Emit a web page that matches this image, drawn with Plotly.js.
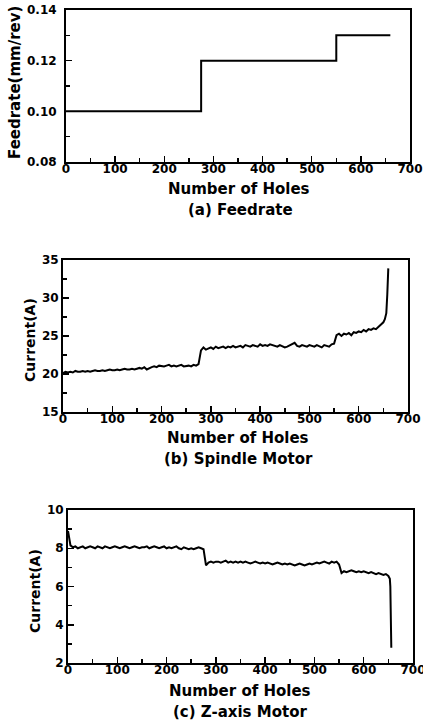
<!DOCTYPE html>
<html>
<head>
<meta charset="utf-8">
<script src="https://cdn.plot.ly/plotly-3.0.1.min.js"></script>
<style>html,body{margin:0;padding:0;background:#fff;}#chart{width:423px;height:722px;}</style>
</head>
<body>
<div id="chart"></div>
<script>
// ---- data ----
var feedHoles = [0, 275, 550, 660];
var feedrate = [0.10, 0.12, 0.13, 0.13];

var holes = [0,5,10,15,20,25,30,35,40,45,50,55,60,65,70,75,80,85,90,95,100,
105,110,115,120,125,130,135,140,145,150,155,160,165,170,175,180,185,190,195,200,
205,210,215,220,225,230,235,240,245,250,255,260,265,270,275,280,285,290,295,300,
305,310,315,320,325,330,335,340,345,350,355,360,365,370,375,380,385,390,395,400,
405,410,415,420,425,430,435,440,445,450,455,460,465,470,475,480,485,490,495,500,
505,510,515,520,525,530,535,540,545,550,555,560,565,570,575,580,585,590,595,600,
605,610,615,620,625,630,635,640,645,650];

var spindleHoles = holes.concat([653, 656, 658, 660]);
var spindle = [20.1,20.3,20.2,20.3,20.2,20.4,20.3,20.3,20.4,20.3,20.4,
20.3,20.4,20.5,20.4,20.4,20.5,20.4,20.5,20.6,20.5,
20.5,20.6,20.5,20.6,20.7,20.6,20.6,20.7,20.6,20.7,
20.8,20.7,20.9,20.6,20.8,20.9,21.0,20.9,21.1,21.0,
21.0,21.1,21.2,21.0,21.1,21.0,21.1,21.2,21.0,21.1,
21.1,21.0,21.2,21.1,21.3,23.1,23.5,23.2,23.4,23.5,
23.3,23.6,23.4,23.5,23.6,23.4,23.6,23.5,23.7,23.5,
23.6,23.7,23.5,23.8,23.7,23.6,23.8,23.7,23.6,23.9,
23.7,23.8,23.7,23.9,23.8,23.7,23.6,23.8,23.7,23.5,
23.6,23.8,23.9,24.1,23.7,23.6,23.8,23.7,23.6,23.8,
23.7,23.6,23.8,23.7,23.5,23.8,23.7,23.6,23.9,24.0,
25.1,25.3,25.0,25.3,25.2,25.4,25.1,25.5,25.4,25.6,
25.5,25.8,25.6,25.9,25.8,26.0,25.9,26.2,26.5,26.8,
27.2,28.0,30.5,33.9];

var zHoles = holes.concat([653, 654, 656]);
var zaxis = [8.9,8.15,8.05,8.1,8.0,8.05,8.1,8.0,8.05,8.1,8.05,
8.0,8.1,8.05,8.0,8.1,8.05,8.0,8.05,8.1,8.05,
8.0,8.05,8.1,8.05,8.0,8.05,8.1,8.05,8.0,8.05,
8.05,8.1,8.0,8.05,8.1,8.05,8.0,8.05,8.1,8.0,
8.05,8.0,8.05,8.1,8.0,7.95,8.05,8.0,7.95,8.0,
7.95,8.0,8.05,8.0,7.95,7.1,7.25,7.3,7.25,7.3,
7.3,7.25,7.3,7.35,7.25,7.3,7.25,7.3,7.25,7.3,
7.25,7.3,7.25,7.2,7.25,7.3,7.25,7.2,7.25,7.2,
7.25,7.2,7.15,7.2,7.25,7.2,7.15,7.2,7.15,7.2,
7.15,7.1,7.15,7.2,7.15,7.1,7.15,7.2,7.15,7.2,
7.25,7.2,7.25,7.3,7.25,7.2,7.3,7.25,7.3,7.15,
6.7,6.8,6.75,6.8,6.85,6.8,6.75,6.8,6.75,6.8,
6.75,6.7,6.75,6.7,6.65,6.7,6.65,6.6,6.65,6.55,
6.4,6.0,2.8];

var xTickVals = [0,100,200,300,400,500,600,700];
var xTitle = 'Number of Holes';
var captions = ['(a) Feedrate', '(b) Spindle Motor', '(c) Z-axis Motor'];
var yTitles = ['Feedrate(mm/rev)', 'Current(A)', 'Current(A)'];

// ---- layout helpers ----
var W = 423, H = 722;
function px(x) { return x / W; }
function py(y) { return 1 - y / H; }

var FONT = 'DejaVu Sans, Arial, sans-serif';

function xAxis(l, r, anchor) {
  return {
    domain: [px(l), px(r)], anchor: anchor, range: [0, 700],
    tickmode: 'array', tickvals: xTickVals,
    ticks: 'inside', ticklen: 6, tickwidth: 1.5, tickcolor: '#000',
    minor: {ticks: 'inside', ticklen: 4, tickwidth: 1.5, dtick: 50, tick0: 0, tickcolor: '#000'},
    showline: true, linewidth: 2, linecolor: '#000', mirror: true,
    showgrid: false, zeroline: false,
    ticklabelstandoff: -5, ticklabeloverflow: 'allow',
    tickfont: {family: FONT, size: 12, color: '#000', weight: 'bold'}
  };
}
function yAxis(t, b, anchor, range, dtick, minorD, fmt, standoff) {
  return {
    domain: [py(b), py(t)], anchor: anchor, range: range,
    dtick: dtick, tick0: range[0], tickformat: fmt,
    ticks: 'inside', ticklen: 6, tickwidth: 1.5, tickcolor: '#000',
    minor: {ticks: 'inside', ticklen: 4, tickwidth: 1.5, dtick: minorD, tick0: range[0], tickcolor: '#000'},
    showline: true, linewidth: 2, linecolor: '#000', mirror: true,
    showgrid: false, zeroline: false,
    ticklabelstandoff: standoff, ticklabeloverflow: 'allow',
    tickfont: {family: FONT, size: 12, color: '#000', weight: 'bold'}
  };
}

var lineStyle = {color: '#000', width: 2};
var traces = [
  {x: feedHoles, y: feedrate, mode: 'lines', line: Object.assign({shape: 'hv'}, lineStyle), xaxis: 'x', yaxis: 'y'},
  {x: spindleHoles, y: spindle, mode: 'lines', line: lineStyle, xaxis: 'x2', yaxis: 'y2'},
  {x: zHoles, y: zaxis, mode: 'lines', line: lineStyle, xaxis: 'x3', yaxis: 'y3'}
];

function ann(text, x, y, size, angle) {
  return {text: text, xref: 'paper', yref: 'paper', x: px(x), y: py(y),
    xanchor: 'center', yanchor: 'middle', showarrow: false, textangle: angle || 0,
    font: {family: FONT, size: size, color: '#000', weight: 'bold'}};
}

var layout = {
  width: W, height: H,
  margin: {l: 0, r: 0, t: 0, b: 0},
  paper_bgcolor: '#fff', plot_bgcolor: '#fff',
  showlegend: false,
  xaxis: xAxis(66, 410, 'y'),
  yaxis: yAxis(10, 162, 'x', [0.08, 0.14], 0.02, 0.01, '.2f', 5),
  xaxis2: xAxis(63, 408, 'y2'),
  yaxis2: yAxis(260, 412, 'x2', [15, 35], 5, 2.5, 'd', 0),
  xaxis3: xAxis(68, 413, 'y3'),
  yaxis3: yAxis(510, 663, 'x3', [2, 10], 2, 1, 'd', 0),
  annotations: [
    ann(xTitle, 239, 189, 15), ann(captions[0], 240, 210, 15), ann(yTitles[0], 15, 83, 15, -90),
    ann(xTitle, 238, 438, 15), ann(captions[1], 238, 459, 15), ann(yTitles[1], 30, 340, 14, -90),
    ann(xTitle, 240, 691, 15), ann(captions[2], 240, 712, 15), ann(yTitles[2], 35, 591, 14, -90)
  ]
};

Plotly.newPlot('chart', traces, layout, {staticPlot: true, displayModeBar: false});
</script>
</body>
</html>
